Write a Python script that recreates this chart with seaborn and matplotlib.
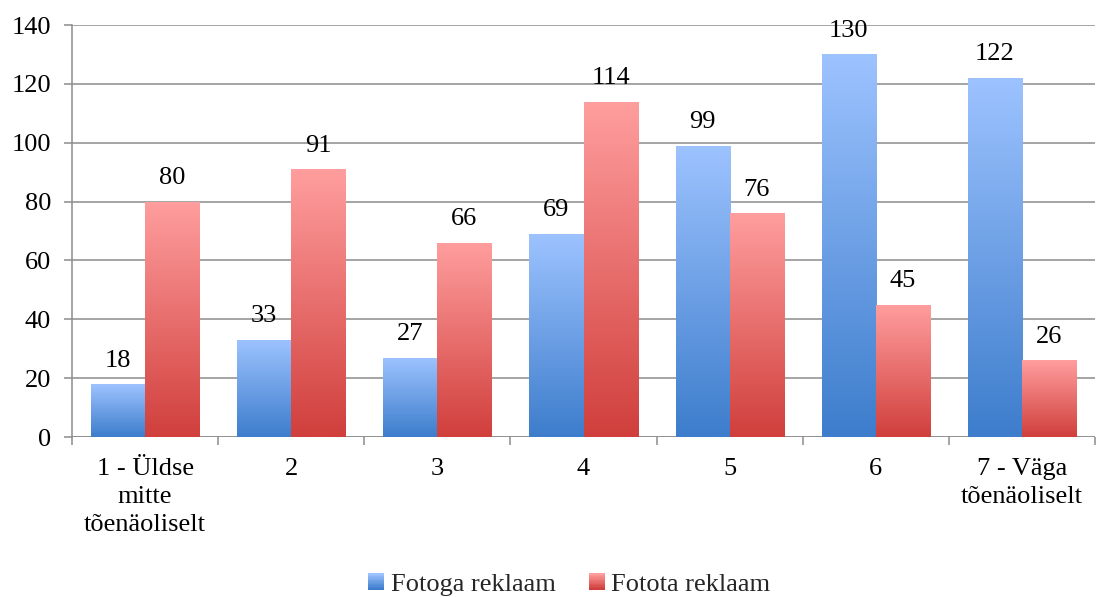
import numpy as np
import pandas as pd
import matplotlib
matplotlib.use("Agg")
import matplotlib.pyplot as plt
import matplotlib.colors as mcolors
from matplotlib.patches import Rectangle
from matplotlib.legend_handler import HandlerBase
import seaborn as sns

categories = ["1 - Üldse\nmitte\ntõenäoliselt", "2", "3", "4", "5", "6", "7 - Väga\ntõenäoliselt"]
series_names = ["Fotoga reklaam", "Fotota reklaam"]
fotoga = [18, 33, 27, 69, 99, 130, 122]
fotota = [80, 91, 66, 114, 76, 45, 26]
y_ticks = [0, 20, 40, 60, 80, 100, 120, 140]

# light (top) -> dark (bottom) gradients for each series
grad = {
    series_names[0]: ("#9DC3FF", "#3D7DCC"),
    series_names[1]: ("#FF9E9E", "#D03F3C"),
}

df = pd.DataFrame({
    "cat": categories * 2,
    "series": [series_names[0]] * 7 + [series_names[1]] * 7,
    "value": fotoga + fotota,
})

FS = 19

sns.set_theme(style="white")
plt.rcParams["font.family"] = ["Liberation Serif", "DejaVu Serif"]

fig = plt.figure(figsize=(11.04, 5.97), dpi=100)
ax = fig.add_axes([72 / 1104, 1 - 437 / 597, (1095 - 72) / 1104, (437 - 25) / 597])

sns.barplot(data=df, x="cat", y="value", hue="series", order=categories,
            hue_order=series_names, palette=[grad[s][1] for s in series_names],
            width=0.74, gap=0, ax=ax, legend=False, saturation=1)

ax.set_ylim(0, 140)
ax.set_xlim(-0.5, 6.5)
ax.set_yticks(y_ticks)
ax.yaxis.grid(True, color="#8C8C8C", linewidth=1.1)
ax.set_axisbelow(True)
for s in ["top", "right", "bottom"]:
    ax.spines[s].set_visible(False)
ax.spines["left"].set_color("#8C8C8C")
ax.spines["left"].set_linewidth(1.1)
ax.axhline(0, color="#8C8C8C", linewidth=1.1, zorder=1)

ax.tick_params(axis="y", which="major", length=6, color="#8C8C8C", width=1.1,
               labelsize=FS, pad=9, left=True, direction="out")
ax.tick_params(axis="x", which="major", length=0, labelsize=FS, pad=15)
ax.set_xticks(np.arange(-0.5, 7.0, 1.0), minor=True)
ax.tick_params(axis="x", which="minor", length=6, color="#8C8C8C", width=1.1,
               bottom=True, direction="out")
ax.set_xlabel("")
ax.set_ylabel("")
for lab in ax.get_yticklabels() + ax.get_xticklabels():
    lab.set_color("black")
for lab in ax.get_xticklabels():
    lab.set_linespacing(1.35)

# gradient fill for every bar, plus value label above it
gradimg = np.linspace(0, 1, 256).reshape(-1, 1)
for container, name in zip(ax.containers, series_names):
    cmap = mcolors.LinearSegmentedColormap.from_list(name, [grad[name][0], grad[name][1]])
    for bar, val in zip(container.patches, container.datavalues):
        x0, w, h = bar.get_x(), bar.get_width(), bar.get_height()
        bar.set_facecolor("none")
        bar.set_edgecolor("none")
        im = ax.imshow(gradimg, cmap=cmap, aspect="auto", extent=[x0, x0 + w, 0, h],
                       origin="upper", zorder=3, interpolation="bilinear")
        im.set_clip_path(Rectangle((x0, 0), w, h, transform=ax.transData))
        ax.annotate(f"{val:g}", (x0 + w / 2, h), xytext=(0, 9), textcoords="offset points",
                    ha="center", va="bottom", fontsize=FS, color="black")

ax.set_xlim(-0.5, 6.5)
ax.set_ylim(0, 140)


class GradHandler(HandlerBase):
    def __init__(self, top, bottom):
        super().__init__()
        self.top, self.bottom = top, bottom

    def create_artists(self, legend, orig_handle, xdescent, ydescent, width, height, fontsize, trans):
        n = 12
        size = height
        x = xdescent + (width - size)
        arts = []
        cmap = mcolors.LinearSegmentedColormap.from_list("g", [self.top, self.bottom])
        for i in range(n):
            r = Rectangle((x, -ydescent + size * (n - 1 - i) / n), size, size / n + 0.3,
                          facecolor=cmap(i / (n - 1)), edgecolor="none", transform=trans)
            arts.append(r)
        return arts


handles = [Rectangle((0, 0), 1, 1) for _ in series_names]
fig.legend(handles, series_names, loc="center", bbox_to_anchor=(570 / 1104, 1 - 585 / 597),
           ncol=2, frameon=False, fontsize=FS, handlelength=0.55, handleheight=0.55,
           handletextpad=0.25, columnspacing=1.3,
           handler_map={handles[0]: GradHandler(*grad[series_names[0]]),
                        handles[1]: GradHandler(*grad[series_names[1]])})

fig.savefig("out.png", dpi=100)
